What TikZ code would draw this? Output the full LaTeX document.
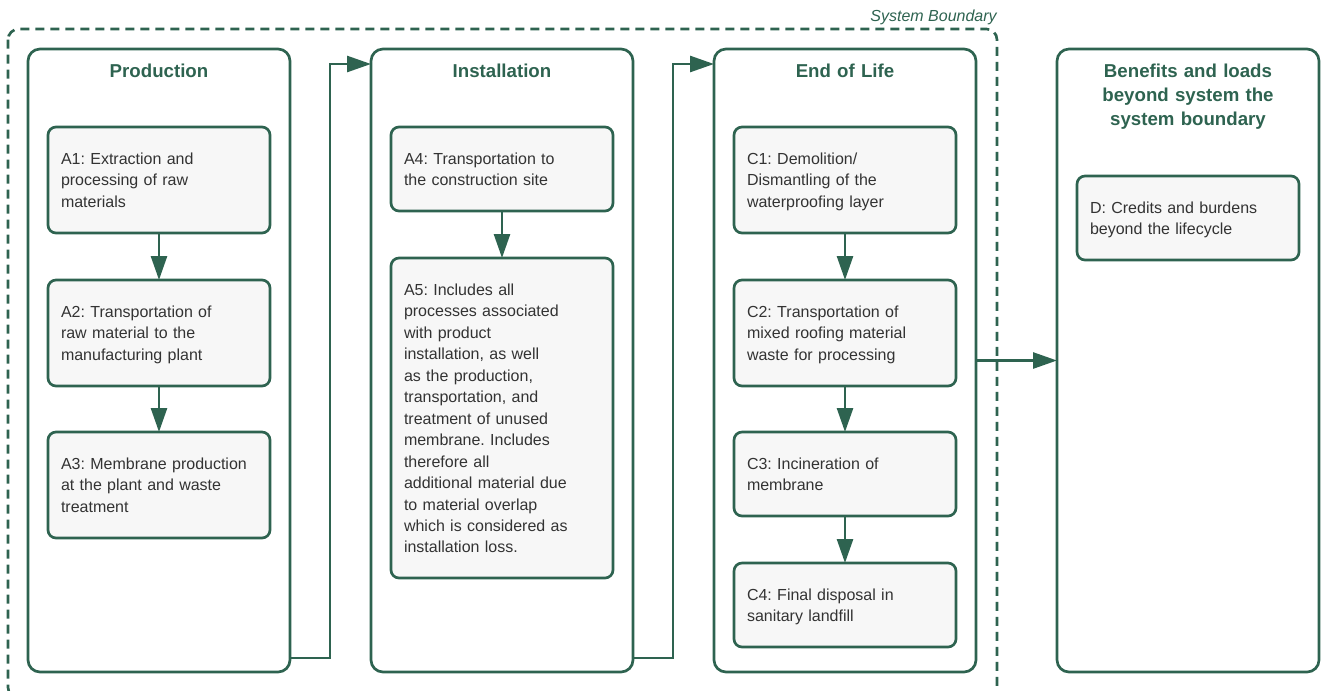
\documentclass[tikz,border=0pt]{standalone}
\usepackage{fontspec}
\setmainfont{Liberation Sans}
\usetikzlibrary{arrows.meta}
\definecolor{lcagreen}{HTML}{2E6350}
\definecolor{lcatext}{HTML}{333333}
\definecolor{lcafill}{HTML}{F7F7F7}
\frenchspacing

\begin{document}
\begin{tikzpicture}[x=0.75pt,y=-0.75pt,
    stage/.style={draw=lcagreen,line width=2pt,rounded corners=9pt,anchor=north west,outer sep=0pt,
      text width=176.5pt,inner xsep=10pt,inner ysep=0pt,align=center,
      text height=21.25pt,text depth=446pt,text=lcagreen,
      font=\fontsize{14}{18}\selectfont\bfseries},
    module/.style={draw=lcagreen,line width=2pt,fill=lcafill,rounded corners=6pt,anchor=north west,outer sep=0pt,
      text width=147pt,inner xsep=9.75pt,inner ysep=0pt,align=left,
      text height=28pt,text=lcatext,font=\fontsize{12}{16.1}\selectfont},
    deep/.style={text depth=51.5pt},
    shallow/.style={text depth=35pt},
    flow/.style={draw=lcagreen,line width=2pt,-{Triangle[length=18pt,width=12pt]}}]
    \useasboundingbox (0,0) rectangle (1321,690);
    \draw[lcagreen,line width=2pt,dash pattern=on 6.75pt off 4.5pt,rounded corners=8pt] (8,29) rectangle (997,698);
    \node[anchor=east,inner sep=0pt,text=lcagreen,font=\fontsize{12}{14}\selectfont\itshape] (sysb) at (997,17) {System Boundary};

    \node[stage] (prod) at (28,49) {Production};
    \node[stage] (inst) at (371,49) {Installation};
    \node[stage] (eol) at (714,49) {End of Life};
    \node[stage] (ben) at (1057,49) {Benefits and loads\\beyond system the\\system boundary};

    \node[module,deep] (a1) at (48,127) {A1: Extraction and\\processing of raw\\materials};
    \node[module,deep] (a2) at (48,280) {A2: Transportation of\\raw material to the\\manufacturing plant};
    \node[module,deep] (a3) at (48,432) {A3: Membrane production\\at the plant and waste\\treatment};
    \node[module,shallow] (a4) at (391,127) {A4: Transportation to\\the construction site};
    \node[module,text depth=212pt] (a5) at (391,258) {A5: Includes all\\processes associated\\with product\\installation, as well\\as the production,\\transportation, and\\treatment of unused\\membrane. Includes\\therefore all\\additional material due\\to material overlap\\which is considered as\\installation loss.};
    \node[module,deep] (c1) at (734,127) {C1: Demolition/\\Dismantling of the\\waterproofing layer};
    \node[module,deep] (c2) at (734,280) {C2: Transportation of\\mixed roofing material\\waste for processing};
    \node[module,shallow] (c3) at (734,432) {C3: Incineration of\\membrane};
    \node[module,shallow] (c4) at (734,563) {C4: Final disposal in\\sanitary landfill};
    \node[module,shallow] (d) at (1077,176) {D: Credits and burdens\\beyond the lifecycle};

    \draw[flow] (a1) -- (a2);
    \draw[flow] (a2) -- (a3);
    \draw[flow] (a4) -- (a5);
    \draw[flow] (c1) -- (c2);
    \draw[flow] (c2) -- (c3);
    \draw[flow] (c3) -- (c4);
    \draw[flow] ([yshift=10.5pt]prod.south east) -- ++(40,0) |- ([yshift=-11.25pt]inst.north west);
    \draw[flow] ([yshift=10.5pt]inst.south east) -- ++(40,0) |- ([yshift=-11.25pt]eol.north west);
    \draw[flow] (eol) -- (ben);
\end{tikzpicture}
\end{document}
